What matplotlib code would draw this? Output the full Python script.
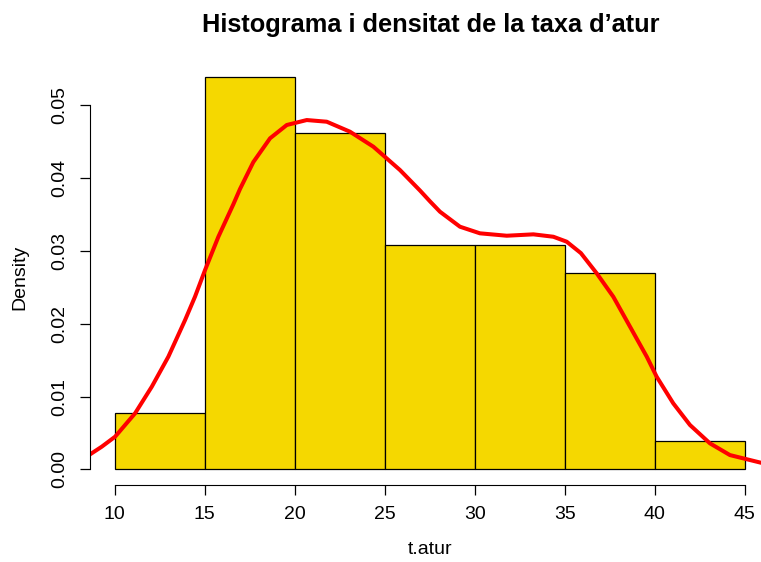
import numpy as np
import matplotlib; matplotlib.use("Agg")
import matplotlib.pyplot as plt

plt.rcParams["font.family"] = ["Liberation Sans", "DejaVu Sans"]

# ---- data ----
breaks = [10, 15, 20, 25, 30, 35, 40, 45]
density = [0.00769, 0.05385, 0.04615, 0.03077, 0.03077, 0.02692, 0.00385]

kde_x = [8.57, 9.28, 10.02, 11.13, 12.06, 12.98, 13.91, 14.46, 15.02, 15.76, 16.59,
         16.96, 17.70, 18.63, 19.56, 20.67, 21.78, 23.07, 24.37, 25.85, 26.96, 27.52,
         28.07, 29.18, 30.29, 31.78, 33.26, 34.37, 35.11, 35.90, 36.78, 37.70, 38.63,
         39.56, 40.11, 41.03, 41.96, 43.07, 44.18, 45.90, 46.40]
kde_y = [0.00196, 0.00311, 0.00448, 0.00769, 0.01135, 0.01547, 0.02051, 0.02371, 0.02738,
         0.03195, 0.03640, 0.03850, 0.04220, 0.04547, 0.04730, 0.04798, 0.04775, 0.04638,
         0.04432, 0.04111, 0.03830, 0.03680, 0.03539, 0.03333, 0.03242, 0.03209, 0.03228,
         0.03195, 0.03127, 0.02970, 0.02692, 0.02371, 0.01959, 0.01547, 0.01272, 0.00907,
         0.00609, 0.00357, 0.00196, 0.00091, 0.00070]

W, H = 761, 562
fig = plt.figure(figsize=(W/100, H/100), dpi=100)
L, R, B, T = 89.5, 769.9, 485.0, 61.8
ax = fig.add_axes([L/W, 1-B/H, (R-L)/W, (B-T)/H])

lefts = np.array(breaks[:-1]); widths = np.diff(breaks)
ax.bar(lefts, density, width=widths, align="edge", color="#F5D800",
       edgecolor="black", linewidth=0.9)
ax.plot(kde_x, kde_y, color="red", lw=2.9, solid_joinstyle="round")

ax.set_xlim(8.6, 46.4)
ax.set_ylim(-0.00215, 0.05598)
for s in ("top", "right"):
    ax.spines[s].set_visible(False)
ax.spines["bottom"].set_bounds(10, 45)
ax.spines["left"].set_bounds(0, 0.05)
ax.set_xticks(range(10, 46, 5))
ax.set_yticks([0, 0.01, 0.02, 0.03, 0.04, 0.05])
ax.set_yticklabels(["0.00", "0.01", "0.02", "0.03", "0.04", "0.05"], rotation=90, va="center")
ax.tick_params(length=7, width=0.9, labelsize=14, pad=8)

fig.text(431/W, 1-25/H, "Histograma i densitat de la taxa d\u2019atur", ha="center", va="center",
         fontsize=18.3, fontweight="bold")
fig.text(430/W, 1-550/H, "t.atur", ha="center", va="center", fontsize=14)
fig.text(20/W, 1-277/H, "Density", ha="center", va="center", rotation=90, fontsize=14)

fig.savefig("out.png", dpi=100)
